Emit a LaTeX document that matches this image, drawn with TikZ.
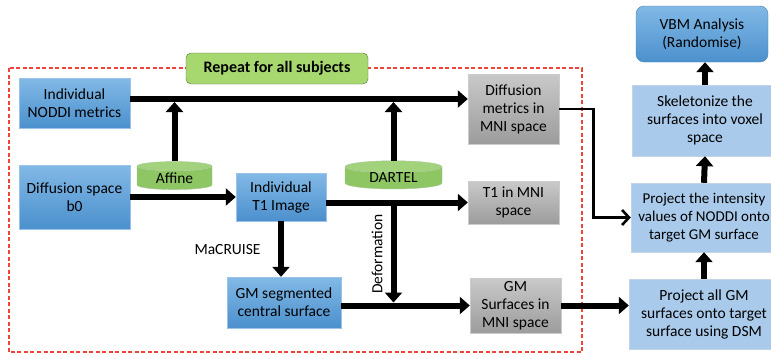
\documentclass[tikz,border=0pt]{standalone}
\usepackage{fontspec}
\setmainfont{Carlito}
\usepackage{xcolor}
\usetikzlibrary{arrows.meta,shapes.geometric}
\definecolor{boxtop}{HTML}{82B9E6}
\definecolor{boxbot}{HTML}{4B90CD}
\definecolor{boxline}{HTML}{9CC4EA}
\definecolor{greytop}{HTML}{C9C9C9}
\definecolor{greybot}{HTML}{9C9C9C}
\definecolor{pale}{HTML}{A9CAEA}
\definecolor{paleline}{HTML}{C3D4E6}
\definecolor{leaf}{HTML}{A7D870}
\definecolor{leafline}{HTML}{55733A}
\definecolor{drum}{HTML}{8DC663}
\definecolor{drumtop}{HTML}{A2D27C}
\definecolor{loopred}{HTML}{F0443A}

\begin{document}
\begin{tikzpicture}[x=1pt,y=-1pt,
		font=\fontsize{15.5}{18}\selectfont,
		bluebox/.style={draw=boxline,top color=boxtop,bottom color=boxbot,align=center,inner sep=0pt},
		greybox/.style={draw=white!80!black,top color=greytop,bottom color=greybot,align=center,inner sep=0pt},
		palebox/.style={draw=paleline,fill=pale,align=center,inner sep=0pt},
		drumnode/.style={cylinder,shape border rotate=90,aspect=0.25,draw=drum!80!black!60,cylinder uses custom fill,
			cylinder body fill=drum,cylinder end fill=drumtop,inner sep=0pt},
		bigarrow/.style={line width=6pt,-{Triangle[length=10pt,width=17pt]}},
		thinarrow/.style={line width=2.6pt,-{Straight Barb[length=7pt,width=15pt,line width=2.6pt]}}]
		%
		\useasboundingbox (0,0) rectangle (771,356);
		%
		\draw [loopred,line width=1.2pt,dash pattern=on 4pt off 2.5pt] (9,68) rectangle (582,352);
		\node (repeat) [draw=leafline,fill=leaf,rounded corners=5pt,minimum width=182,minimum height=31,font=\fontsize{16}{18}\selectfont\bfseries] at (277,68.5) {Repeat for all subjects};
		%
		\node (noddi) [bluebox,minimum width=111,minimum height=50] at (74.5,103) {Individual\\NODDI metrics};
		\node (b0) [bluebox,minimum width=111,minimum height=64] at (74.5,197) {Diffusion space\\b0};
		\node (t1) [bluebox,minimum width=90,minimum height=48] at (281,197) {Individual\\T1 Image};
		\node (gmseg) [bluebox,minimum width=114,minimum height=51] at (284,302.5) {GM segmented\\central surface};
		%
		\node (affine) [drumnode,minimum width=75,minimum height=28] at (174.5,178) {\raisebox{-3pt}{Affine}};
		\node (dartel) [drumnode,minimum width=97,minimum height=28] at (393.5,178) {\raisebox{-3pt}{DARTEL}};
		%
		\node (diffmni) [greybox,minimum width=91,minimum height=70] at (513.5,109) {Diffusion\\metrics in\\MNI space};
		\node (t1mni) [greybox,minimum width=91,minimum height=43] at (513.5,202.5) {T1 in MNI\\space};
		\node (gmmni) [greybox,minimum width=91,minimum height=55] at (515.5,305.5) {GM\\Surfaces in\\MNI space};
		%
		\node (vbm) [draw=boxbot!90!black,top color=boxtop,bottom color=boxbot,rounded corners=8pt,align=center,
			minimum width=132,minimum height=56,inner sep=0pt] at (702,34) {VBM Analysis\\(Randomise)};
		\node (skel) [palebox,minimum width=146,minimum height=71] at (705,120.5) {Skeletonize the\\surfaces into voxel\\space};
		\node (projint) [palebox,minimum width=146,minimum height=69,font=\fontsize{15}{18}\selectfont] at (704,217.5) {Project the intensity\\values of NODDI onto\\target GM surface};
		\node (projall) [palebox,minimum width=150,minimum height=70] at (704,314) {Project all GM\\surfaces onto target\\surface using DSM};
		%
		\draw [bigarrow] ([yshift=4pt]noddi.east) coordinate (n1) -- (n1 -| diffmni.west);
		\draw [bigarrow,shorten >=3pt] (affine.north) -- (affine.north |- n1);
		\draw [bigarrow,shorten >=3pt] (dartel.north) -- (dartel.north |- n1);
		\draw [bigarrow] (b0.east |- t1.west) -- (t1.west);
		\draw [bigarrow] (t1.east |- t1mni.west) coordinate (t2) -- (t1mni.west);
		\draw [bigarrow] (t1.south) -- (t1.south |- gmseg.north);
		\draw [bigarrow] (gmseg.east |- gmmni.west) coordinate (g1) -- (gmmni.west);
		\draw [bigarrow,shorten <=3pt,shorten >=3pt] (dartel.south |- t2) -- (dartel.south |- g1);
		\draw [bigarrow] (gmmni.east) -- (gmmni.east -| projall.west);
		\draw [bigarrow] (projall.north -| projint.south) -- (projint.south);
		\draw [bigarrow] (projint.north) -- (skel.south);
		\draw [bigarrow] (skel.north) -- (skel.north |- vbm.south);
		\draw [thinarrow] (diffmni.east) -- ++(34,0) |- (projint.west);
		%
		\node (macruise) [anchor=east] at (264,250) {MaCRUISE};
		\node (deform) [rotate=90] at (377,254) {Deformation};
		%
\end{tikzpicture}
\end{document}
